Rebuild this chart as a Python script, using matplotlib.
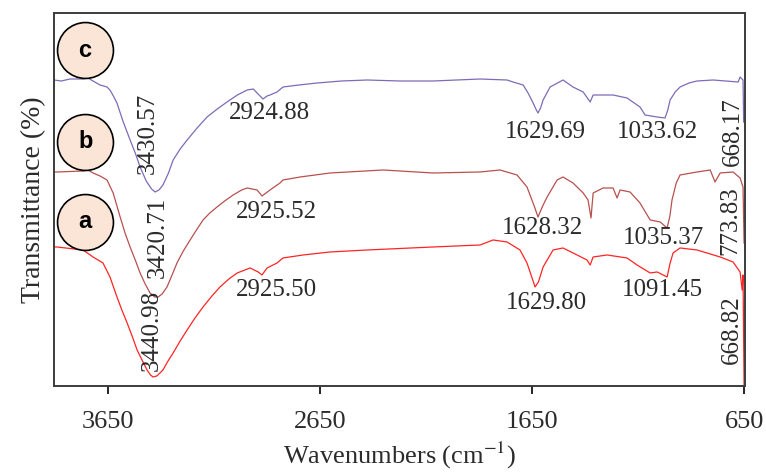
import matplotlib.pyplot as plt

plt.rcParams['mathtext.fontset'] = 'stix'

# FTIR spectra (wavenumber, transmittance in arbitrary units)
wn_c = [3905, 3870, 3830, 3768, 3744, 3721, 3688, 3655, 3641, 3625, 3608, 3580, 3546,
        3520, 3499, 3470, 3445, 3428, 3410, 3391, 3365, 3343, 3310, 3277, 3230, 3183,
        3135, 3089, 3040, 2994, 2965, 2947, 2919, 2900, 2886, 2853, 2825, 2750, 2664,
        2550, 2428, 2273, 2117, 1895, 1768, 1740, 1692, 1669, 1645, 1630, 1622, 1610,
        1598, 1565, 1504, 1457, 1409, 1376, 1362, 1268, 1202, 1141, 1117, 1060, 1023,
        1010, 999, 975, 952, 910, 872, 796, 678, 669, 655, 652]
t_c = [306, 305, 307, 307, 308, 305, 301, 299, 296, 290, 283, 265, 246,
       232, 219, 205, 197, 194, 196, 201, 213, 226, 237, 246, 258, 269,
       277, 284, 291, 296, 297, 293, 287, 290, 291, 294, 299, 301, 303,
       305, 306, 305, 305, 307, 306, 304, 301, 293, 283, 276, 273, 278,
       286, 299, 306, 299, 294, 284, 291, 291, 288, 279, 271, 269, 268,
       276, 286, 294, 299, 303, 305, 306, 304, 309, 306, 264]

wn_b = [3905, 3891, 3768, 3744, 3721, 3688, 3655, 3626, 3593, 3570, 3546, 3520, 3499,
        3475, 3452, 3430, 3414, 3395, 3372, 3350, 3325, 3295, 3263, 3230, 3202, 3170,
        3136, 3100, 3060, 3020, 2994, 2947, 2924, 2886, 2839, 2825, 2744, 2603, 2353,
        2117, 1895, 1801, 1721, 1674, 1640, 1622, 1600, 1579, 1532, 1504, 1457, 1409,
        1386, 1372, 1362, 1315, 1268, 1249, 1235, 1188, 1141, 1093, 1046, 1013, 1000,
        990, 970, 952, 872, 810, 787, 763, 702, 669, 655, 650]
t_b = [214, 214, 215, 216, 213, 210, 206, 193, 169, 153, 139, 125, 113,
       102, 93, 89, 89, 92, 99, 110, 123, 135, 146, 157, 166, 173,
       179, 185, 191, 196, 198, 196, 190, 196, 203, 206, 209, 213, 216,
       213, 214, 216, 211, 199, 180, 169, 180, 189, 206, 209, 203, 193,
       186, 168, 193, 198, 198, 188, 196, 194, 183, 166, 164, 158, 170,
       186, 203, 211, 214, 216, 204, 213, 214, 208, 199, 143]

wn_a = [3905, 3891, 3768, 3721, 3674, 3641, 3608, 3585, 3560, 3535, 3513, 3490, 3466,
        3450, 3438, 3420, 3405, 3391, 3370, 3343, 3310, 3277, 3240, 3202, 3160, 3122,
        3080, 3041, 2980, 2942, 2924, 2900, 2853, 2825, 2730, 2603, 2428, 2117, 1895,
        1834, 1768, 1707, 1674, 1650, 1636, 1620, 1598, 1551, 1504, 1438, 1391, 1376,
        1362, 1296, 1202, 1155, 1093, 1060, 1013, 1000, 985, 952, 872, 763, 702, 669,
        659, 655, 650]
t_a = [139, 139, 136, 129, 123, 109, 89, 76, 63, 49, 36, 26, 16,
       11, 9, 10, 13, 16, 24, 33, 45, 56, 68, 79, 90, 99,
       107, 113, 118, 114, 111, 118, 123, 128, 131, 134, 136, 139, 141,
       146, 144, 136, 123, 108, 99, 104, 119, 136, 138, 131, 126, 121,
       129, 131, 128, 121, 113, 114, 109, 122, 133, 138, 136, 129, 124, 114,
       96, 111, 0]

# peak labels: text, wavenumber, y, rotation
peak_text = ['3430.57', '2924.88', '1629.69', '1033.62', '668.17',
             '3420.71', '2925.52', '1628.32', '1035.37', '773.83',
             '3440.98', '2925.50', '1629.80', '1091.45', '668.82']
peak_x = [3461, 2891, 1589, 1060, 702,
          3414, 2858, 1603, 1032, 716,
          3442, 2858, 1584, 1037, 707]
peak_y = [253, 273, 254, 254, 254,
          149, 174, 158, 148, 165,
          56, 96, 83, 96, 56]
peak_rot = [90, 0, 0, 0, 90,
            90, 0, 0, 0, 90,
            90, 0, 0, 0, 90]

tag_text = ['c', 'b', 'a']
tag_x = [3758, 3758, 3758]
tag_y = [336, 244, 164]

fig = plt.figure(figsize=(7.66, 4.73), dpi=100)
ax = fig.add_axes([0.0705, 0.184, 0.902, 0.7885])

ax.plot(wn_a, t_a, color='#ff2424', lw=0.9)
ax.plot(wn_b, t_b, color='#b8504e', lw=0.9)
ax.plot(wn_c, t_c, color='#7d6bb8', lw=0.9)

for s, x, y, r in zip(peak_text, peak_x, peak_y, peak_rot):
    ax.text(x, y, s, rotation=r, ha='center', va='center',
            fontsize=18, family='Liberation Serif', color='#2b2b2b')

ax.scatter(tag_x, tag_y, s=1620, facecolor='#fbe5d6', edgecolor='black',
           linewidth=1.2, zorder=5, clip_on=False)
for s, x, y in zip(tag_text, tag_x, tag_y):
    ax.text(x, y, s, ha='center', va='center', fontsize=17, fontweight='bold',
            family='Liberation Sans', zorder=6)

ax.set_xlim(3905, 646)
ax.set_ylim(0, 373)
ax.set_xticks([3650, 2650, 1650, 650])
ax.set_yticks([])
ax.tick_params(axis='x', direction='out', length=6, width=1.2, pad=12,
               labelsize=19, labelcolor='#2b2b2b')
for lab in ax.get_xticklabels():
    lab.set_family('Liberation Serif')
for sp in ax.spines.values():
    sp.set_color('#3c3c3c')
    sp.set_linewidth(1.4)

ax.set_xlabel('Wavenumbers (cm$^{-1}$)', fontsize=19, family='Liberation Serif',
              color='#2b2b2b', labelpad=5)
ax.set_ylabel('Transmittance (%)', fontsize=20, family='Liberation Serif',
              color='#2b2b2b', labelpad=6)

fig.savefig('out.png', dpi=100)
